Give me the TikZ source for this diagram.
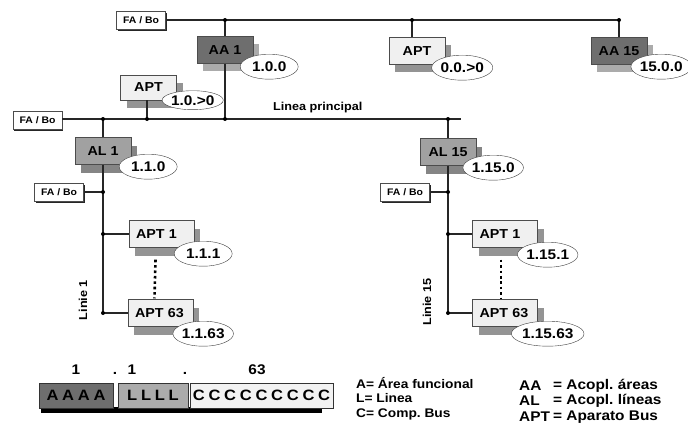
\documentclass[tikz,border=0pt]{standalone}
\usepackage{fontspec}
\setmainfont{Liberation Sans}[FakeStretch=1.1]
\newfontfamily\barfont{Liberation Sans}[FakeStretch=1.1,LetterSpace=25]
\usetikzlibrary{shapes.geometric,shadows,calc,positioning}
\tikzset{
	bus/.style={line width=1.3pt, draw=black!85},
	jdot/.style={circle, fill=black, inner sep=0pt, minimum size=4pt},
	devbox/.style={rectangle, draw=black!70, minimum width=56pt, minimum height=27pt,
		font=\fontsize{13}{14}\selectfont\bfseries, inner sep=2pt},
	aabox/.style={devbox, fill=black!57,
		drop shadow={shadow xshift=6pt, shadow yshift=-8pt, fill=black!33, opacity=1}},
	albox/.style={devbox, fill=black!37,
		drop shadow={shadow xshift=6pt, shadow yshift=-8pt, fill=black!48, opacity=1}},
	aptbox/.style={devbox, fill=black!6,
		drop shadow={shadow xshift=6pt, shadow yshift=-8pt, fill=black!42, opacity=1}},
	aptrow/.style={aptbox, minimum width=65pt, text width=51pt, inner xsep=7pt, align=left},
	addr/.style={ellipse, draw=black!75, fill=white, minimum width=58pt, minimum height=25pt,
		inner sep=0pt, font=\fontsize{14}{15}\selectfont\bfseries},
	fabox/.style={rectangle, draw=black!70, fill=white, minimum width=49pt, minimum height=18pt,
		inner sep=1pt, font=\fontsize{9.5}{10}\selectfont\bfseries,
		drop shadow={shadow xshift=1pt, shadow yshift=-2pt, fill=black!85, opacity=1}},
	lbl/.style={font=\fontsize{11.5}{12}\selectfont\bfseries, inner sep=0pt},
	seg/.style={rectangle, draw=black!80, minimum height=25pt, inner sep=0pt,
		font=\barfont\fontsize{15}{16}\selectfont\bfseries},
	legl/.style={anchor=west, inner sep=0pt, font=\fontsize{12.5}{13}\selectfont\bfseries},
	legr/.style={anchor=west, inner sep=0pt, font=\fontsize{14}{15}\selectfont\bfseries}
}
\begin{document}
\begin{tikzpicture}[x=1pt, y=-1pt]
\useasboundingbox (0,0) rectangle (688,428);

% area line
\node[fabox] (fa0) at (141,20) {FA / Bo};
\coordinate (t1) at (225,20);
\coordinate (t2) at (412,20);
\coordinate (t3) at (619,20);
\draw[bus] (fa0.east) -- (t3);
\node[aabox] (aa1) at (225,50) {AA 1};
\node[aptbox] (apt0) at (417,51) {APT};
\node[aabox] (aa15) at (619,51) {AA 15};
\draw[bus] (t1) -- (aa1);
\draw[bus] (t2) -- (t2 |- apt0.north);
\draw[bus] (t3) -- (aa15);
\node[addr] (e-aa1) at ([shift={(16,3)}]aa1.south east) {1.0.0};
\node[addr] (e-apt0) at ([shift={(17,3)}]apt0.south east) {0.0.>0};
\node[addr] (e-aa15) at ([shift={(14,2)}]aa15.south east) {15.0.0};

% main line
\node[fabox] (fa1) at (37.5,120) {FA / Bo};
\coordinate (m1) at (103,119);
\coordinate (m2) at (147,119);
\coordinate (m3) at (225,119);
\coordinate (m4) at (448,119);
\coordinate (mend) at (461,119);
\draw[bus] (fa1.east |- m1) -- (mend);
\draw[bus] (aa1) -- (m3);
\node[lbl, anchor=west] (lp) at (273,108) {Linea principal};
\node[aptbox, minimum height=25pt] (apt00) at (148.5,87.5) {APT};
\node[addr, minimum height=19pt] (e-apt00) at ([shift={(16,0)}]apt00.south east) {1.0.>0};
\draw[bus] (apt00.south -| m2) -- (m2);

% line 1
\node[albox] (al1) at (103,151) {AL 1};
\node[addr] (e-al1) at ([shift={(17,2)}]al1.south east) {1.1.0};
\coordinate (a1) at (103,192);
\coordinate (a2) at (103,234);
\coordinate (a3) at (103,313);
\draw[bus] (m1) -- (al1);
\draw[bus] (al1) -- (a3);
\node[fabox] (fa2) at (59,192) {FA / Bo};
\node[aptrow] (apt1a) at (161.5,234) {APT 1};
\node[aptrow] (apt63a) at (160.5,313) {APT 63};
\draw[bus] (fa2) -- (a1);
\draw[bus] (a2) -- (apt1a);
\draw[bus] (a3) -- (apt63a);
\draw[line width=2.6pt, dash pattern=on 2.6pt off 2.8pt]
	([shift={(-6,12)}]apt1a.south) -- ([shift={(-6,-1)}]apt63a.north);
\node[addr] (e-apt1a) at ([shift={(9,6)}]apt1a.south east) {1.1.1};
\node[addr] (e-apt63a) at ([shift={(10,7)}]apt63a.south east) {1.1.63};
\node[lbl, rotate=90] (lin1) at (83,300) {Linie 1};

% line 15
\node[albox] (al15) at (448,152) {AL 15};
\node[addr] (e-al15) at ([shift={(17,2)}]al15.south east) {1.15.0};
\coordinate (b1) at (448,192);
\coordinate (b2) at (448,234);
\coordinate (b3) at (448,313);
\draw[bus] (m4) -- (al15);
\draw[bus] (al15) -- (b3);
\node[fabox] (fa3) at (405,192) {FA / Bo};
\node[aptrow] (apt1b) at (505,234) {APT 1};
\node[aptrow] (apt63b) at (505,313) {APT 63};
\draw[bus] (fa3) -- (b1);
\draw[bus] (b2) -- (apt1b);
\draw[bus] (b3) -- (apt63b);
\draw[line width=2.6pt, dash pattern=on 2.6pt off 2.8pt]
	([shift={(-4,12)}]apt1b.south) -- ([shift={(-4,-1)}]apt63b.north);
\node[addr] (e-apt1b) at ([shift={(10,7)}]apt1b.south east) {1.15.1};
\node[addr] (e-apt63b) at ([shift={(10,7)}]apt63b.south east) {1.15.63};
\node[lbl, rotate=90] (lin15) at (427,302) {Linie 15};

% junctions
\foreach \p in {t1,t2,t3,m1,m2,m3,m4,a1,a2,a3,b1,b2,b3}
	\node[jdot] at (\p) {};

% address format
\fill[black] (41,407) rectangle (322,413);
\node[seg, fill=black!57, minimum width=74pt] (sa) at (76,395.5) {AAAA};
\node[seg, fill=black!33, minimum width=70pt] (sl) at (153,395.5) {LLLL};
\node[seg, fill=black!5, minimum width=143pt] (sc) at (261.5,395.5) {CCCCCCCCC};
\foreach \x/\t in {76/1, 115/., 132/1, 185/., 257/63}
	\node[font=\fontsize{14}{15}\selectfont\bfseries, inner sep=0pt, anchor=base] at (\x,374) {\t};

% legend
\node[legl] (la) at (356,383) {A= Área funcional};
\node[legl] (ll) at (356,398) {L= Linea};
\node[legl] (lc) at (356,414) {C= Comp.\ Bus};
\node[legr] (raa) at (519,386) {AA};
\node[legr] (ral) at (519,401) {AL};
\node[legr] (rapt) at (519,417) {APT};
\node[legr] at (553,386) {= Acopl.\ áreas};
\node[legr] at (553,401) {= Acopl.\ líneas};
\node[legr] at (553,417) {= Aparato Bus};
\end{tikzpicture}
\end{document}
